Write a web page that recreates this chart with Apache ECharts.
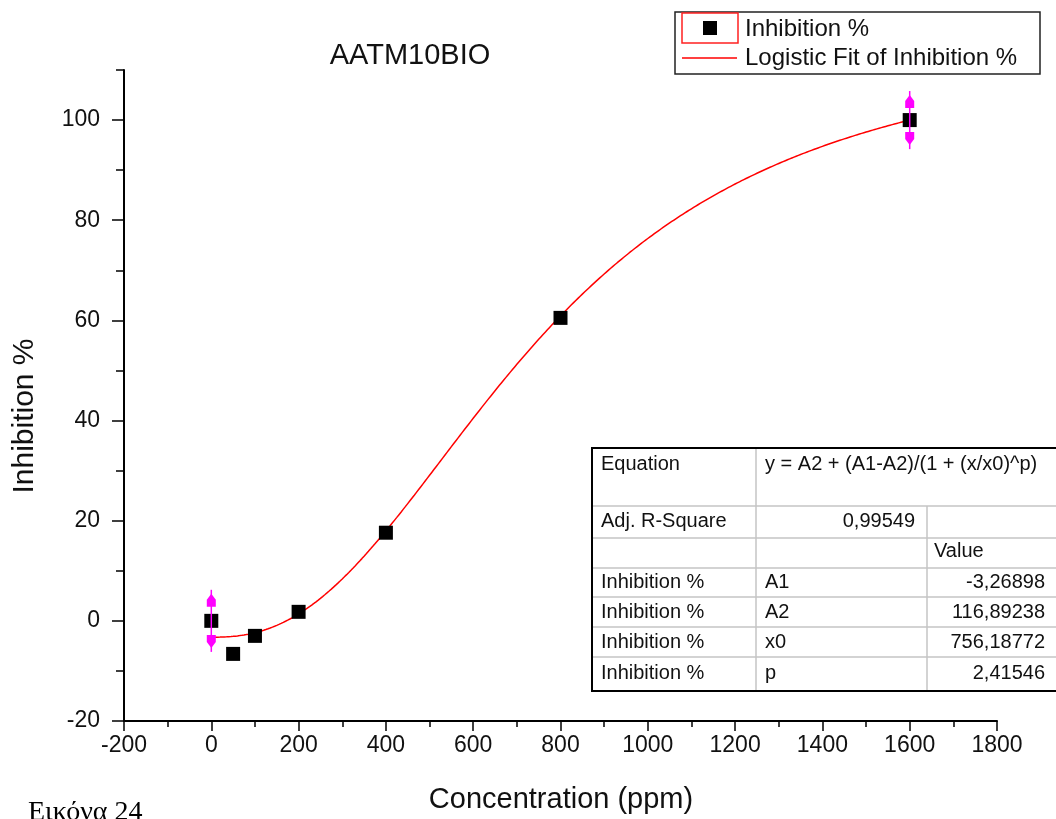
<!DOCTYPE html>
<html>
<head>
<meta charset="utf-8">
<script src="https://cdn.jsdelivr.net/npm/echarts@6/dist/echarts.min.js"></script>
<style>
  html, body { margin: 0; padding: 0; background: #fff; }
  #chart { width: 1056px; height: 819px; }
</style>
</head>
<body>
<div id="chart"></div>
<script>
// Measured inhibition at each concentration
const concentration = [0, 50, 100, 200, 400, 800, 1600];
const inhibition = [0, -6.6, -3.0, 1.8, 17.6, 60.5, 100];

// Error bars (value ± half-range)
const errorX = [0, 1600];
const errorY = [0, 100];
const errorHalf = [6.2, 5.8];

// Logistic fit: y = A2 + (A1-A2)/(1 + (x/x0)^p)
const fitParamNames = ['A1', 'A2', 'x0', 'p'];
const fitParamValues = [-3.26898, 116.89238, 756.18772, 2.41546];
const adjRSquare = 0.99549;
const fitRange = [0, 1600];

// Axis ticks
const xTicks = [-200, 0, 200, 400, 600, 800, 1000, 1200, 1400, 1600, 1800];
const yTicks = [-20, 0, 20, 40, 60, 80, 100];

const FONT = 'Liberation Sans, Arial, sans-serif';
const TXT = '#111';

const [A1, A2, X0, P] = fitParamValues;
const fitLine = [];
for (let x = fitRange[0]; x <= fitRange[1]; x += 5) {
  fitLine.push([x, A2 + (A1 - A2) / (1 + Math.pow(x / X0, P))]);
}

const fmt = v => v.toFixed(5).replace('.', ',');

const chart = echarts.init(document.getElementById('chart'), null, { renderer: 'canvas' });

// Fit results table
const tL = 592, tC2 = 756, tC3 = 927, tR = 1062, tT = 448, tB = 691;
const rowY = [506, 538, 568, 597, 627, 657];
const grey = '#c4c4c4';
const tableChildren = [
  { type: 'rect', shape: { x: tL, y: tT, width: tR - tL, height: tB - tT }, style: { fill: '#fff', stroke: null } }
];
rowY.forEach(y => tableChildren.push({ type: 'line', shape: { x1: tL, y1: y, x2: tR, y2: y }, style: { stroke: grey, lineWidth: 1.5 } }));
tableChildren.push({ type: 'line', shape: { x1: tC2, y1: tT, x2: tC2, y2: tB }, style: { stroke: grey, lineWidth: 1.5 } });
tableChildren.push({ type: 'line', shape: { x1: tC3, y1: rowY[0], x2: tC3, y2: tB }, style: { stroke: grey, lineWidth: 1.5 } });
tableChildren.push({ type: 'polyline', shape: { points: [[tR, tT], [tL, tT], [tL, tB], [tR, tB]] }, style: { stroke: '#000', lineWidth: 2, fill: null } });
const cell = (text, x, y, align) => ({
  type: 'text', x, y,
  style: { text, font: '20px ' + FONT, fill: TXT, align: align || 'left', verticalAlign: 'middle' }
});
tableChildren.push(cell('Equation', 601, 464));
tableChildren.push(cell('y = A2 + (A1-A2)/(1 + (x/x0)^p)', 765, 464));
tableChildren.push(cell('Adj. R-Square', 601, 521));
tableChildren.push(cell(fmt(adjRSquare), 915, 521, 'right'));
tableChildren.push(cell('Value', 934, 551));
const paramRowY = [582, 612, 642, 673];
fitParamNames.forEach((n, i) => {
  tableChildren.push(cell('Inhibition %', 601, paramRowY[i]));
  tableChildren.push(cell(n, 765, paramRowY[i]));
  tableChildren.push(cell(fmt(fitParamValues[i]), 1045, paramRowY[i], 'right'));
});

chart.setOption({
  backgroundColor: '#fff',
  animation: false,
  grid: { left: 124, right: 59, top: 70, bottom: 98, containLabel: false },
  xAxis: {
    type: 'value', min: -200, max: 1800, interval: 200,
    axisLine: { onZero: false, lineStyle: { color: '#000', width: 2 } },
    axisTick: { length: 10, lineStyle: { color: '#000', width: 1.5 } },
    minorTick: { show: true, splitNumber: 2, length: 6, lineStyle: { color: '#000', width: 1.5 } },
    splitLine: { show: false },
    axisLabel: { fontSize: 23, fontFamily: FONT, color: TXT, margin: 13, formatter: v => String(v) }
  },
  yAxis: [
    {
      type: 'value', min: -20, max: 110, interval: 10, position: 'left',
      axisLine: { onZero: false, lineStyle: { color: '#000', width: 2 } },
      axisTick: { length: 8, lineStyle: { color: '#000', width: 1.5 } },
      axisLabel: { show: false },
      splitLine: { show: false }
    },
    {
      type: 'value', min: -20, max: 110, interval: 10, position: 'left',
      axisLine: { show: false, onZero: false },
      axisTick: { show: true, customValues: yTicks, length: 12, lineStyle: { color: '#000', width: 1.5 } },
      axisLabel: { customValues: yTicks, fontSize: 23, fontFamily: FONT, color: TXT, margin: 24, formatter: v => String(v) },
      splitLine: { show: false }
    }
  ],
  series: [
    {
      name: 'Logistic Fit of Inhibition %', type: 'line', data: fitLine,
      showSymbol: false, smooth: false, z: 2,
      lineStyle: { color: '#ff0000', width: 1.5 }
    },
    {
      name: 'Inhibition %', type: 'scatter', z: 3,
      data: concentration.map((c, i) => [c, inhibition[i]]),
      symbol: 'rect', symbolSize: 14,
      itemStyle: { color: '#000', opacity: 1 }
    },
    {
      type: 'custom', z: 4,
      data: errorX.map((x, i) => [x, errorY[i], errorHalf[i]]),
      renderItem: (params, api) => {
        const x = api.value(0), y = api.value(1), e = api.value(2);
        const top = api.coord([x, y + e]);
        const bot = api.coord([x, y - e]);
        const cx = top[0], t = top[1], b = bot[1];
        const c = '#ff00ff';
        return {
          type: 'group',
          children: [
            { type: 'line', shape: { x1: cx, y1: t, x2: cx, y2: b }, style: { stroke: c, lineWidth: 1.5 } },
            { type: 'polygon', shape: { points: [[cx, t + 4], [cx + 4.5, t + 10], [cx + 4.5, t + 17], [cx - 4.5, t + 17], [cx - 4.5, t + 10]] }, style: { fill: c } },
            { type: 'polygon', shape: { points: [[cx, b - 4], [cx + 4.5, b - 10], [cx + 4.5, b - 17], [cx - 4.5, b - 17], [cx - 4.5, b - 10]] }, style: { fill: c } }
          ]
        };
      }
    }
  ],
  graphic: [
    // Chart title
    { type: 'text', x: 410, y: 56, style: { text: 'AATM10BIO', font: '29px ' + FONT, fill: TXT, align: 'center', verticalAlign: 'middle' } },
    // Axis titles
    { type: 'text', x: 25, y: 416, rotation: Math.PI / 2, style: { text: 'Inhibition %', font: '30px ' + FONT, fill: TXT, align: 'center', verticalAlign: 'middle' } },
    { type: 'text', x: 561, y: 800, style: { text: 'Concentration (ppm)', font: '29px ' + FONT, fill: TXT, align: 'center', verticalAlign: 'middle' } },
    // Caption
    { type: 'text', x: 28, y: 813, style: { text: 'Εικόνα 24', font: '28px Liberation Serif, Times New Roman, serif', fill: '#000', align: 'left', verticalAlign: 'middle' } },
    // Legend
    { type: 'rect', shape: { x: 675, y: 12, width: 365, height: 62 }, style: { fill: '#fff', stroke: '#222', lineWidth: 1.5 } },
    { type: 'rect', shape: { x: 682, y: 13, width: 56, height: 30 }, style: { fill: null, stroke: '#ff2020', lineWidth: 1.5 } },
    { type: 'rect', shape: { x: 703, y: 21, width: 14, height: 14 }, style: { fill: '#000' } },
    { type: 'text', x: 745, y: 29, style: { text: 'Inhibition %', font: '24px ' + FONT, fill: TXT, align: 'left', verticalAlign: 'middle' } },
    { type: 'line', shape: { x1: 682, y1: 58, x2: 737, y2: 58 }, style: { stroke: '#ff0000', lineWidth: 1.5 } },
    { type: 'text', x: 745, y: 58, style: { text: 'Logistic Fit of Inhibition %', font: '24px ' + FONT, fill: TXT, align: 'left', verticalAlign: 'middle' } },
    // Fit results
    { type: 'group', children: tableChildren }
  ]
});
</script>
</body>
</html>
